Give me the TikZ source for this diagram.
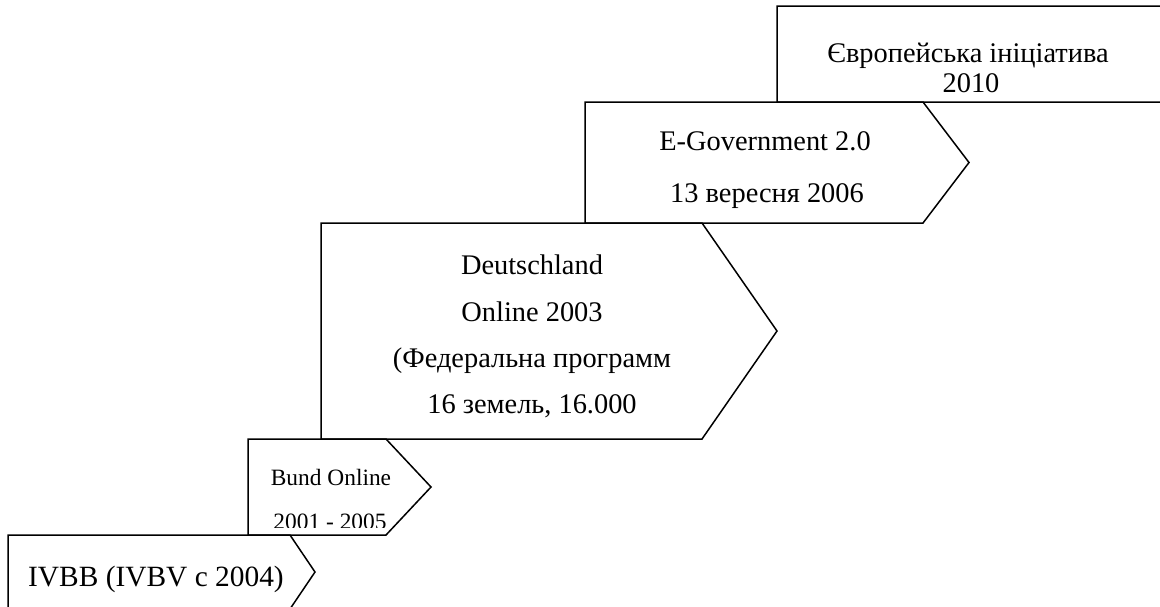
\documentclass[tikz,border=0pt]{standalone}
\usepackage{fontspec}
\setmainfont{Liberation Serif}
\tikzset{
  stage/.style={draw=black, line width=0.75pt, line join=miter},
  bigtext/.style={font=\fontsize{14.2}{17}\selectfont, inner sep=0pt, anchor=base},
  smalltext/.style={font=\fontsize{11.7}{14}\selectfont, inner sep=0pt, anchor=base},
}
\begin{document}
\begin{tikzpicture}[x=0.5pt, y=-0.5pt]
    \clip (0,0) rectangle (1160,606);

    % stages: left/top/body end/tip/bottom
    \foreach \l/\t/\r/\p/\b in {8/535/290/315/609, 248/439/386/431/535, 321/223/702/777/439, 585/102/923/969/223, 777/6/1190/1240/102}{
      \draw[stage] (\l,\t) -- (\r,\t) -- (\p,{(\t+\b)/2}) -- (\r,\b) -- (\l,\b) -- cycle;
    }

    \node[bigtext] (eu1) at (968,62) {Європейська ініціатива};
    \node[bigtext] (eu2) at (971,92) {2010};

    \node[bigtext] (egov1) at (765,150) {E-Government 2.0};
    \node[bigtext] (egov2) at (767,202) {13 вересня 2006};

    \foreach \y/\txt [count=\i] in {274/Deutschland, 321/Online 2003, 367/(Федеральна программ, 413/{16 земель, 16.000}}{
      \node[bigtext] (deu\i) at (532,\y) {\txt};
    }

    \node[smalltext] (bund1) at (331,485) {Bund Online};
    \begin{scope}
     \clip (248,439) rectangle (386,527);
     \node[smalltext] (bund2) at (330,529) {2001 - 2005};
    \end{scope}

    \node[bigtext, font=\fontsize{14.7}{17}\selectfont] (ivbb) at (156,586) {IVBB (IVBV c 2004)};
\end{tikzpicture}
\end{document}
